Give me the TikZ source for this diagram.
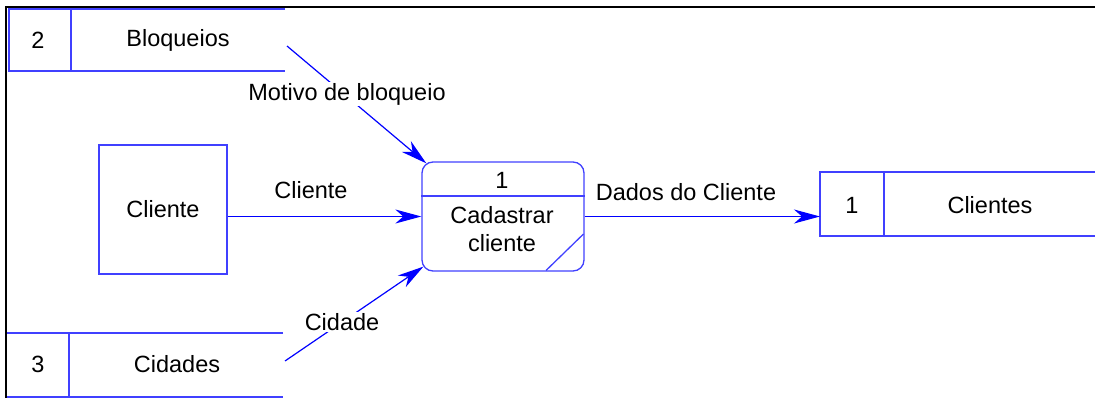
\documentclass[tikz,border=0pt]{standalone}
\usepackage{fontspec}
\setmainfont{Liberation Sans}
\usetikzlibrary{arrows.meta,calc}
\definecolor{shapeblue}{RGB}{64,64,255}
\definecolor{flowblue}{RGB}{0,0,255}
\tikzset{
  dfdtext/.style={font=\fontsize{23.5}{28}\selectfont, text=black, inner sep=2pt},
  outline/.style={draw=shapeblue, line width=1.3pt},
  storeline/.style={draw=shapeblue, line width=1.3pt},
  flow/.style={draw=flowblue, line width=1.2pt,
    -{Stealth[length=26pt,width=14pt,inset=8pt]}},
  flowlabel/.style={dfdtext, fill=white, inner sep=1pt},
  frameline/.style={draw=black, line width=2pt},
}
\begin{document}
\begin{tikzpicture}[x=1pt,y=-1pt]
\useasboundingbox (0,0) rectangle (1095,398);

% sheet frame (top and left edges)
\draw[frameline] (6,398) -- (6,7) -- (1095,7);

% data store 2: Bloqueios
\draw[storeline] (285,9) -- (9,9) -- (9,71) -- (285,71);
\draw[storeline] (71,9) -- (71,71);
\node[dfdtext] (s2n) at (38,40) {2};
\node[dfdtext] (s2) at (178,40) {Bloqueios};

% data store 3: Cidades
\draw[storeline] (283,333) -- (7,333);
\draw[storeline] (7,397) -- (283,397);
\draw[storeline] (69,333) -- (69,397);
\node[dfdtext] (s3n) at (38,364) {3};
\node[dfdtext] (s3) at (177,364) {Cidades};

% data store 1: Clientes
\draw[storeline] (1095,172) -- (820,172) -- (820,236) -- (1095,236);
\draw[storeline] (884,172) -- (884,236);
\node[dfdtext] (s1n) at (852,205) {1};
\node[dfdtext] (s1) at (990,205) {Clientes};

% external entity: Cliente
\node[outline, minimum width=128pt, minimum height=129pt, inner sep=0pt]
  (ext) at (163,209.5) {};
\node[dfdtext] (extlbl) at (163,209) {Cliente};

% process 1: Cadastrar cliente
\node[outline, rounded corners=11pt, minimum width=162pt, minimum height=109pt,
  inner sep=0pt] (proc) at (503,216.5) {};
\draw[outline] (proc.west |- 0,196) -- (proc.east |- 0,196);
\draw[outline] (546,270.5) -- (583.5,234);
\node[dfdtext] (procnum) at (502,180) {1};
\node[dfdtext, align=center] (procname) at (502,229) {Cadastrar\\cliente};

% connector ends
\coordinate (motstart) at (287,46);
\coordinate (cidstart) at (285,361);
\coordinate (s1in) at (820,216.5);

% flows
\draw[flow] (motstart) -- ($(proc.north west)+(5,2)$);
\node[flowlabel] (motlbl) at (347,94) {Motivo de bloqueio};

\draw[flow] (ext.east |- proc.west) -- (proc.west);
\node[dfdtext] (clilbl) at (311,190) {Cliente};

\draw[flow] (cidstart) -- ($(proc.south west)+(2,-5)$);
\node[flowlabel] (cidlbl) at (342,322) {Cidade};

\draw[flow] (proc.east) -- (s1in);
\node[dfdtext] (dadlbl) at (686,192) {Dados do Cliente};
\end{tikzpicture}
\end{document}
